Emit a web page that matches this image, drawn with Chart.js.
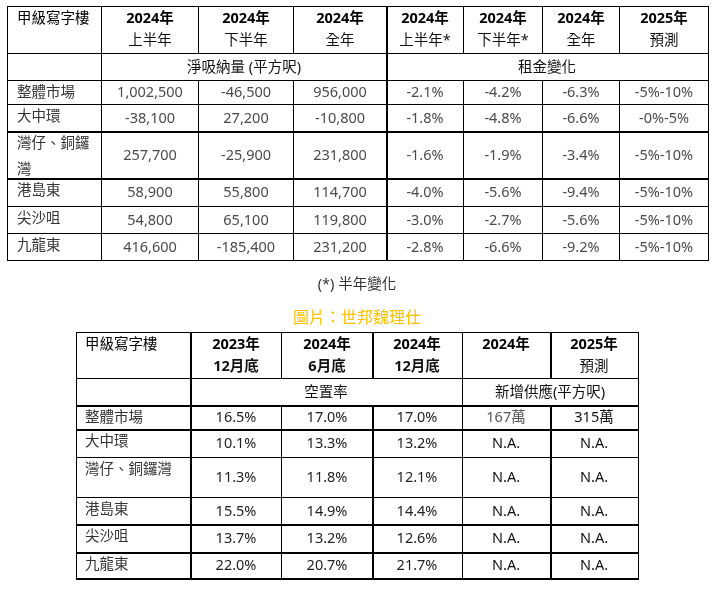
<!DOCTYPE html>
<html>
<head>
<meta charset="utf-8">
<script src="https://cdn.jsdelivr.net/npm/chart.js@4"></script>
<style>
  html, body { margin: 0; padding: 0; background: #fff; }
  #wrap { width: 720px; height: 593px; }
</style>
</head>
<body>
<div id="wrap"><canvas id="tbl" width="720" height="593"></canvas></div>
<script>
// ===== DATA =====
const regions = ['整體市場', '大中環', '灣仔、銅鑼灣', '港島東', '尖沙咀', '九龍東'];

// net absorption (sq ft)
const absorption1H = [1002500, -38100, 257700, 58900, 54800, 416600];
const absorption2H = [-46500, 27200, -25900, 55800, 65100, -185400];
const absorptionFY = [956000, -10800, 231800, 114700, 119800, 231200];

// rent change (%)
const rent1H = [-2.1, -1.8, -1.6, -4.0, -3.0, -2.8];
const rent2H = [-4.2, -4.8, -1.9, -5.6, -2.7, -6.6];
const rentFY = [-6.3, -6.6, -3.4, -9.4, -5.6, -9.2];
const rentForecast = ['-5%-10%', '-0%-5%', '-5%-10%', '-5%-10%', '-5%-10%', '-5%-10%'];

// vacancy (%)
const vacancyDec23 = [16.5, 10.1, 11.3, 15.5, 13.7, 22.0];
const vacancyJun24 = [17.0, 13.3, 11.8, 14.9, 13.2, 20.7];
const vacancyDec24 = [17.0, 13.2, 12.1, 14.4, 12.6, 21.7];

// new supply (sq ft)
const supply2024 = ['167萬', 'N.A.', 'N.A.', 'N.A.', 'N.A.', 'N.A.'];
const supply2025 = ['315萬', 'N.A.', 'N.A.', 'N.A.', 'N.A.', 'N.A.'];

// header labels
const cornerLabel = '甲級寫字樓';
const periodYears1 = ['2024年', '2024年', '2024年', '2024年', '2024年', '2024年', '2025年'];
const periodNames1 = ['上半年', '下半年', '全年', '上半年*', '下半年*', '全年', '預測'];
const groupLabels1 = ['淨吸納量 (平方呎)', '租金變化'];
const periodYears2 = ['2023年', '2024年', '2024年', '2024年', '2025年'];
const periodNames2 = ['12月底', '6月底', '12月底', '', '預測'];
const groupLabels2 = ['空置率', '新增供應(平方呎)'];
const footnote = '(*) 半年變化';
const sourceNote = '圖片：世邦魏理仕';

// ===== LAYOUT =====
const FONT = "'Noto Sans', 'Noto Sans CJK TC', sans-serif";
const SIZE = 14.5;

const TABLE1 = {
  cols: [7, 101, 198, 293, 386, 463, 542, 619, 708],
  rows: [6, 53, 80, 104, 131, 178, 206, 233, 260],
  thickCols: [4],
  thickRows: [4, 5],
  groupRow: 1,
  groups: [[0, 1], [1, 4], [4, 8]],
  pad: 10,
  boldNames: [],
};
const TABLE2 = {
  cols: [76, 190, 281, 372, 462, 550, 638],
  rows: [332, 378, 405, 429, 457, 497, 524, 552, 578],
  thickCols: [1, 3, 5],
  thickRows: [2, 3, 6, 7, 8],
  groupRow: 1,
  groups: [[0, 1], [1, 4], [4, 6]],
  pad: 9,
  boldNames: [0, 1, 2],
};

const fmtInt = (v) => v.toLocaleString('en-US');
const fmtPct = (v) => `${v.toFixed(1)}%`;

// ===== TABLE DRAWING PLUGIN =====
const tablePlugin = {
  id: 'tables',
  afterDraw(chart) {
    const { ctx, scales: { x, y } } = chart;
    const px = (v) => Math.round(x.getPixelForValue(v));
    const py = (v) => Math.round(y.getPixelForValue(v));

    const text = (str, tx, ty, opts = {}) => {
      ctx.save();
      ctx.font = `${opts.bold ? 'bold ' : ''}${opts.size || SIZE}px ${FONT}`;
      ctx.fillStyle = opts.color || '#000';
      ctx.textAlign = opts.align || 'center';
      ctx.textBaseline = 'middle';
      ctx.fillText(str, px(tx), py(ty));
      ctx.restore();
    };

    const wrap = (str, maxW) => {
      ctx.save();
      ctx.font = `${SIZE}px ${FONT}`;
      const lines = [];
      let cur = '';
      for (const ch of str) {
        if (cur && ctx.measureText(cur + ch).width > maxW) {
          lines.push(cur);
          cur = ch;
        } else cur += ch;
      }
      if (cur) lines.push(cur);
      ctx.restore();
      return lines;
    };

    const grid = (t) => {
      ctx.save();
      ctx.fillStyle = '#000';
      const { cols, rows } = t;
      // horizontal lines
      rows.forEach((r, i) => {
        const w = t.thickRows.includes(i) ? 2 : 1;
        ctx.fillRect(px(cols[0]), py(r), px(cols[cols.length - 1]) - px(cols[0]) + 1, w);
      });
      // vertical lines, skipped inside merged group cells
      cols.forEach((c, i) => {
        const w = t.thickCols.includes(i) ? 2 : 1;
        for (let r = 0; r < rows.length - 1; r++) {
          if (r === t.groupRow && t.groups.some(([a, b]) => a < i && i < b)) continue;
          ctx.fillRect(px(c), py(rows[r]), w, py(rows[r + 1]) - py(rows[r]) + 1);
        }
      });
      ctx.restore();
    };

    const mid = (a, b) => (a + b) / 2;

    const drawTable = (t, years, names, groups, columns, labelLineGap, wrapLabels) => {
      const { cols, rows } = t;
      grid(t);
      // header
      text(cornerLabel, cols[0] + t.pad, rows[0] + 13, { align: 'left', color: '#000' });
      years.forEach((yr, i) => {
        const cx = mid(cols[i + 1], cols[i + 2]);
        text(yr, cx, rows[0] + 13, { bold: true });
        if (names[i]) {
          text(names[i], cx, rows[0] + 35, { color: '#111', bold: t.boldNames.includes(i) });
        }
      });
      groups.forEach((g, i) => {
        const [a, b] = t.groups[i + 1];
        text(g, mid(cols[a], cols[b]), mid(rows[1], rows[2]) + 1, { color: '#111' });
      });
      // body
      regions.forEach((name, r) => {
        const top = rows[r + 2];
        const bot = rows[r + 3];
        const lines = wrapLabels
          ? wrap(name, cols[1] - cols[0] - 2 * t.pad)
          : [name];
        lines.forEach((ln, k) => {
          text(ln, cols[0] + t.pad, top + 13 + k * labelLineGap, { align: 'left', color: '#333' });
        });
        columns.forEach((col, c) => {
          text(col.fmt(col.data[r]), mid(cols[c + 1], cols[c + 2]), mid(top, bot) + 1, {
            color: col.color(r),
          });
        });
      });
    };

    const grey = () => '#4a4a4a';
    drawTable(TABLE1, periodYears1, periodNames1, groupLabels1, [
      { data: absorption1H, fmt: fmtInt, color: grey },
      { data: absorption2H, fmt: fmtInt, color: grey },
      { data: absorptionFY, fmt: fmtInt, color: grey },
      { data: rent1H, fmt: fmtPct, color: grey },
      { data: rent2H, fmt: fmtPct, color: grey },
      { data: rentFY, fmt: fmtPct, color: grey },
      { data: rentForecast, fmt: (v) => v, color: grey },
    ], 26, true);

    text(footnote, 357, 285, { color: '#333' });
    text(sourceNote, 357, 318, { color: '#FFC000', size: 16 });

    const dark = () => '#222';
    drawTable(TABLE2, periodYears2, periodNames2, groupLabels2, [
      { data: vacancyDec23, fmt: fmtPct, color: dark },
      { data: vacancyJun24, fmt: fmtPct, color: dark },
      { data: vacancyDec24, fmt: fmtPct, color: dark },
      { data: supply2024, fmt: (v) => v, color: (r) => (r === 0 ? '#555' : '#111') },
      { data: supply2025, fmt: (v) => v, color: () => '#111' },
    ], 26, false);
  },
};

new Chart(document.getElementById('tbl'), {
  type: 'scatter',
  data: { datasets: [] },
  options: {
    responsive: false,
    animation: false,
    layout: { padding: 0 },
    scales: {
      x: { type: 'linear', min: 0, max: 720, display: false },
      y: { type: 'linear', min: 0, max: 593, reverse: true, display: false },
    },
    plugins: { legend: { display: false }, tooltip: { enabled: false } },
  },
  plugins: [tablePlugin],
});
</script>
</body>
</html>
